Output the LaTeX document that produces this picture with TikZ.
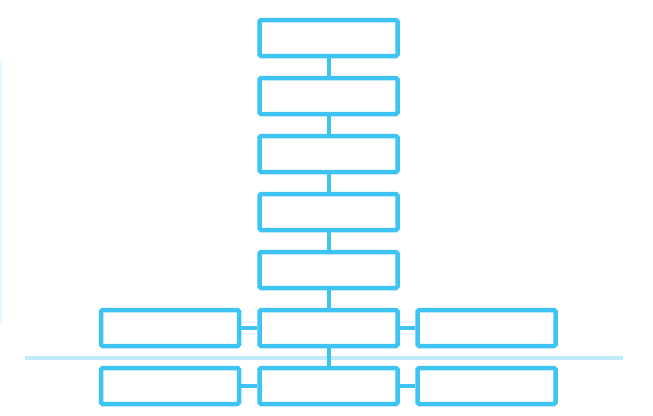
\documentclass[tikz,border=0pt]{standalone}
\definecolor{boxblue}{RGB}{62,196,242}
\definecolor{railblue}{RGB}{190,234,250}
\definecolor{edgecyan}{RGB}{225,250,255}
\begin{document}
\begin{tikzpicture}[x=1pt,y=-1pt,
  box/.style={draw=boxblue,line width=4.5pt,rounded corners=1.5pt,
    minimum width=138pt,minimum height=36pt,inner sep=0pt},
  link/.style={draw=boxblue,line width=4pt}]
\useasboundingbox (0,0) rectangle (653,415);

% faint margin line and the rail
\coordinate (edgeN) at (1,60);
\coordinate (edgeS) at (1,323);
\draw[edgecyan,line width=2pt] (edgeN) -- (edgeS);
\coordinate (railW) at (25,358);
\coordinate (railE) at (623,358);
\draw[railblue,line width=3.5pt] (railW) -- (railE);

% centre column
\foreach \i in {1,2,3,4,5,6,7}
  \node [box] (C\i) at (328.5, {38+58*(\i-1)}) {};

% side boxes
\foreach \i in {6,7} {
  \node [box] (L\i) at (170, {38+58*(\i-1)}) {};
  \node [box] (R\i) at (486.5, {38+58*(\i-1)}) {};
}

\foreach \a / \b in {1/2, 2/3, 3/4, 4/5, 5/6, 6/7}
  \draw[link] (C\a) -- (C\b);
\foreach \i in {6,7} {
  \draw[link] (L\i) -- (C\i);
  \draw[link] (C\i) -- (R\i);
}
\end{tikzpicture}
\end{document}
